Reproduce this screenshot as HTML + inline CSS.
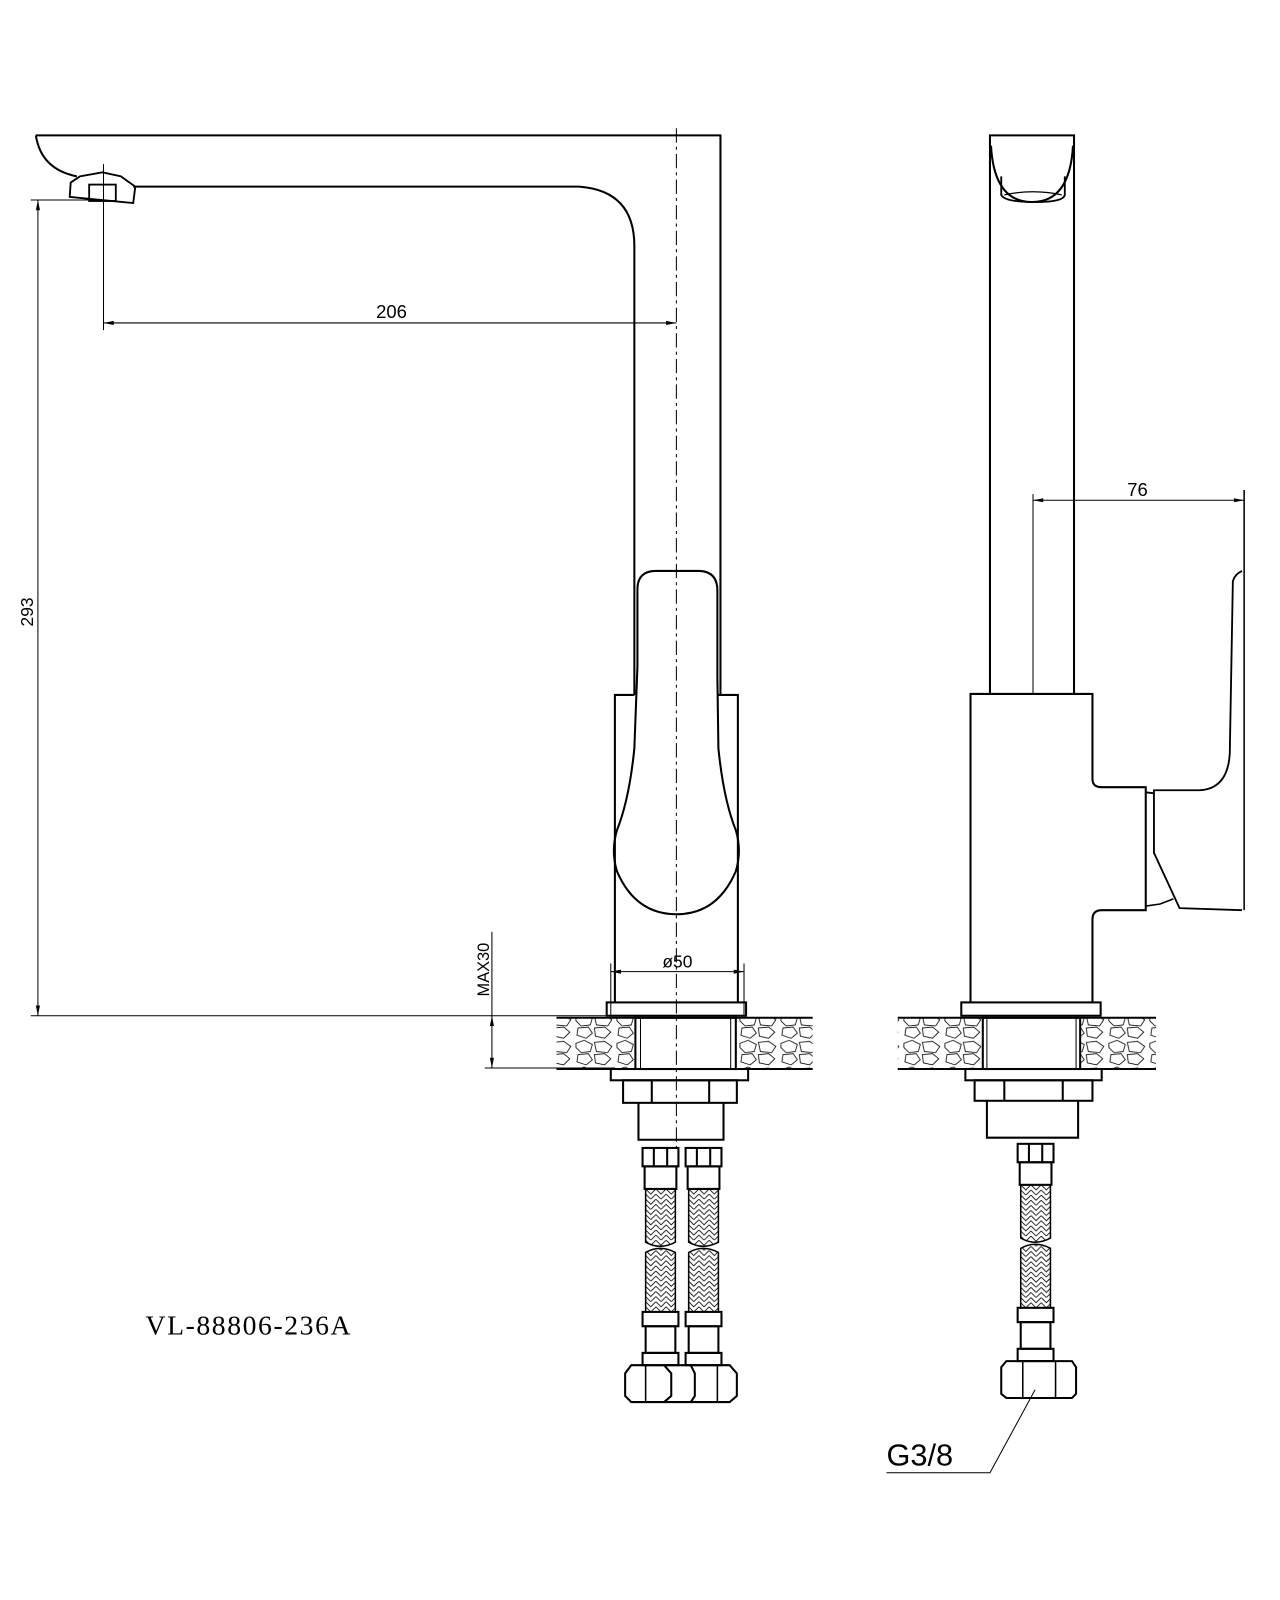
<!DOCTYPE html>
<html><head><meta charset="utf-8"><style>html,body{margin:0;padding:0;background:#fff}svg{display:block}</style></head>
<body>
<svg width="1280" height="1600" viewBox="0 0 1249 1561" xmlns="http://www.w3.org/2000/svg" fill="none" stroke="#000" stroke-width="2">
<defs>
<pattern id="stone" width="40" height="26" patternUnits="userSpaceOnUse">
<path d="M2 4 L10 1 L18 5 L16 12 L7 13 L2 8 Z M20 3 L30 2 L37 7 L33 13 L22 12 Z M4 15 L14 14 L18 20 L12 25 L3 22 Z M20 15 L30 14 L36 19 L30 25 L21 23 Z" stroke-width="0.8"/>
</pattern>
<pattern id="braid" width="10" height="10" patternUnits="userSpaceOnUse">
<path d="M0 0 L5 5 L10 0 M0 5 L5 10 L10 5" stroke-width="0.8"/>
</pattern>
</defs>

<!-- LEFT VIEW -->
<path d="M35 132 L703 132 L703 678"/>
<path d="M35 132 Q40 165 75 172"/>
<path d="M130 182 L565 182 Q619 186 619 240 L619 678"/>
<path d="M69 178 L78 172 L100 168 L118 172 L132 182 L130 198 L68 192 Z" stroke-width="1.8"/>
<rect x="87" y="180" width="26" height="16" stroke-width="1.8"/>
<line x1="660" y1="125" x2="660" y2="1120" stroke-width="1" stroke-dasharray="14,4,3,4"/>
<line x1="101" y1="160" x2="101" y2="322" stroke-width="1"/>
<line x1="101" y1="315" x2="660" y2="315" stroke-width="1"/>
<path d="M101 315 l10 -2 v4 z M660 315 l-10 -2 v4 z" fill="#000" stroke="none"/>
<text x="382" y="310" font-family="Liberation Sans, sans-serif" font-size="18" fill="#000" stroke="none" text-anchor="middle">206</text>
<line x1="30" y1="195" x2="100" y2="195" stroke-width="1"/>
<line x1="30" y1="991" x2="600" y2="991" stroke-width="1"/>
<line x1="37" y1="195" x2="37" y2="991" stroke-width="1"/>
<path d="M37 195 l-2 10 h4 z M37 991 l-2 -10 h4 z" fill="#000" stroke="none"/>
<text transform="translate(32,597) rotate(-90)" font-family="Liberation Sans, sans-serif" font-size="17" fill="#000" stroke="none" text-anchor="middle">293</text>
<path d="M622 575 Q622 557 640 557 L683 557 Q700 558 700 576 L700 660 L701 730 Q706 780 718 810 Q724 830 718 850 Q700 892 660 892 Q620 892 602 850 Q596 830 602 810 Q614 780 619 730 L622 650 Z"/>
<path d="M619 678 L600 678 L600 978 M700 678 L720 678 L720 978"/>
<rect x="592" y="978" width="136" height="13"/>
<line x1="596" y1="940" x2="596" y2="990" stroke-width="1"/>
<line x1="726" y1="940" x2="726" y2="990" stroke-width="1"/>
<line x1="596" y1="948" x2="726" y2="948" stroke-width="1"/>
<path d="M596 948 l10 -2 v4 z M726 948 l-10 -2 v4 z" fill="#000" stroke="none"/>
<text x="661" y="944" font-family="Liberation Sans, sans-serif" font-size="17" fill="#000" stroke="none" text-anchor="middle">ø50</text>
<line x1="480" y1="909" x2="480" y2="1042" stroke-width="1"/>
<line x1="473" y1="1042" x2="600" y2="1042" stroke-width="1"/>
<path d="M480 991 l-2 10 h4 z M480 1042 l-2 -10 h4 z" fill="#000" stroke="none"/>
<text transform="translate(477,946) rotate(-90)" font-family="Liberation Sans, sans-serif" font-size="16" fill="#000" stroke="none" text-anchor="middle">MAX30</text>
<rect x="543" y="993" width="77" height="50" fill="url(#stone)" stroke="none"/>
<rect x="720" y="993" width="73" height="50" fill="url(#stone)" stroke="none"/>
<line x1="543" y1="993" x2="793" y2="993"/>
<line x1="543" y1="1043" x2="793" y2="1043"/>
<rect x="620" y="993" width="98" height="50"/>
<line x1="625" y1="993" x2="625" y2="1043" stroke-width="1"/>
<line x1="713" y1="993" x2="713" y2="1043" stroke-width="1"/>
<rect x="596" y="1043" width="134" height="11"/>
<rect x="608" y="1054" width="111" height="22"/>
<line x1="636" y1="1054" x2="636" y2="1076"/><line x1="692" y1="1054" x2="692" y2="1076"/>
<path d="M623 1076 L623 1112 L706 1112 L706 1076"/>
<g id="hose">
<rect x="627" y="1120" width="35" height="18"/>
<line x1="638" y1="1120" x2="638" y2="1138"/><line x1="651" y1="1120" x2="651" y2="1138"/>
<rect x="629" y="1138" width="31" height="22"/>
<path d="M630 1160 L659 1160 L659 1212 Q644 1220 630 1212 Z" fill="url(#braid)" stroke-width="1.5"/>
<path d="M630 1222 Q644 1214 659 1222 L659 1280 L630 1280 Z" fill="url(#braid)" stroke-width="1.5"/>
<rect x="627" y="1280" width="35" height="14"/>
<rect x="630" y="1294" width="29" height="26"/>
<rect x="627" y="1320" width="35" height="12"/>
</g>
<use href="#hose" x="42"/>
<path d="M616 1332 L648 1332 L655 1340 L655 1362 L648 1368 L616 1368 L610 1362 L610 1340 Z"/>
<path d="M648 1332 L674 1332 L678 1340 L678 1362 L674 1368 L648 1368"/>
<path d="M674 1332 L712 1332 L719 1340 L719 1362 L712 1368 L674 1368"/>
<line x1="630" y1="1332" x2="630" y2="1368" stroke-width="1.5"/>
<line x1="700" y1="1332" x2="700" y2="1368" stroke-width="1.5"/>
<text x="142" y="1302" font-family="Liberation Serif, serif" font-size="27" fill="#000" stroke="none" textLength="200" lengthAdjust="spacing">VL-88806-236A</text>

<!-- RIGHT VIEW -->
<path d="M966 678 L966 132 L1048 132 L1048 678"/>
<path d="M967 142 Q970 197 1007 197 Q1044 197 1047 142"/>
<path d="M977 172 L977 190 Q980 197 1010 197 Q1038 197 1039 190 L1039 172" stroke-width="1.8"/>
<path d="M980 190 Q1008 184 1036 190" stroke-width="1.2"/>
<line x1="1008" y1="482" x2="1008" y2="678" stroke-width="1"/>
<line x1="1008" y1="488" x2="1214" y2="488" stroke-width="1"/>
<path d="M1008 488 l10 -2 v4 z M1214 488 l-10 -2 v4 z" fill="#000" stroke="none"/>
<text x="1110" y="484" font-family="Liberation Sans, sans-serif" font-size="18" fill="#000" stroke="none" text-anchor="middle">76</text>
<line x1="1214" y1="478" x2="1214" y2="888" stroke-width="1.5"/>
<path d="M947 978 L947 677 L1066 677 L1066 760 Q1066 768 1075 768 L1118 768 L1118 888 L1075 888 Q1066 888 1066 897 L1066 978"/>
<path d="M1118 773 L1126 774 L1126 771 L1170 771 Q1198 770 1200 735 L1203 567 Q1205 560 1212 557" stroke-width="1.8"/>
<path d="M1126 774 L1126 832 L1151 886 L1212 888" stroke-width="1.8"/>
<path d="M1118 884 L1132 882 L1145 877" stroke-width="1.5"/>
<rect x="938" y="978" width="136" height="13"/>
<rect x="876" y="993" width="83" height="50" fill="url(#stone)" stroke="none"/>
<rect x="1054" y="993" width="74" height="50" fill="url(#stone)" stroke="none"/>
<line x1="876" y1="993" x2="1128" y2="993"/>
<line x1="876" y1="1043" x2="1128" y2="1043"/>
<rect x="959" y="993" width="95" height="50"/>
<line x1="963" y1="993" x2="963" y2="1043" stroke-width="1"/>
<line x1="1050" y1="993" x2="1050" y2="1043" stroke-width="1"/>
<rect x="942" y="1043" width="133" height="11"/>
<rect x="951" y="1054" width="115" height="20"/>
<line x1="980" y1="1054" x2="980" y2="1074"/><line x1="1037" y1="1054" x2="1037" y2="1074"/>
<path d="M963 1074 L963 1110 L1052 1110 L1052 1074"/>
<use href="#hose" x="366" y="-4"/>
<path d="M982 1328 L1046 1328 L1050 1334 L1050 1360 L1046 1364 L982 1364 L977 1360 L977 1334 Z"/>
<line x1="998" y1="1328" x2="998" y2="1364" stroke-width="1.5"/>
<line x1="1030" y1="1328" x2="1030" y2="1364" stroke-width="1.5"/>
<polyline points="1010,1356 966,1437 865,1437" stroke-width="1"/>
<text x="865" y="1430" font-family="Liberation Sans, sans-serif" font-size="30" fill="#000" stroke="none">G3/8</text>
</svg>
</body></html>
